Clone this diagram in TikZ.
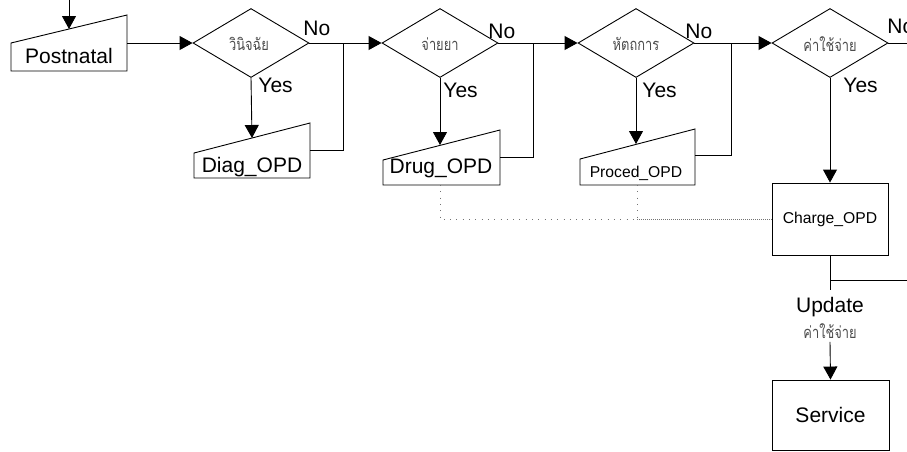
\documentclass[tikz,border=0pt]{standalone}
\usepackage{fontspec}
\setmainfont{Liberation Sans}
\newfontfamily\thaifont[Script=Thai, FakeStretch=0.78]{Loma}
\usetikzlibrary{arrows.meta,shapes.geometric}
\begin{document}
\begin{tikzpicture}[x=1pt,y=-1pt,
  line width=0.9pt,
  flow/.style={-{Triangle[length=13pt,width=14pt]}},
  decision/.style={draw, diamond, minimum width=116pt, minimum height=69pt, inner sep=0pt},
  box/.style={draw, rectangle, minimum width=116pt, minimum height=72pt, inner sep=0pt},
  big/.style={font=\fontsize{21}{24}\selectfont, inner sep=0pt},
  small/.style={font=\fontsize{15.7}{18}\selectfont, inner sep=0pt},
  thai/.style={font=\thaifont\fontsize{16.5}{18}\selectfont, text=black!70, inner sep=0pt},
  link/.style={draw=black!55, line width=0.8pt, dash pattern=on 0.8pt off 5.5pt},
  denselink/.style={draw=black!55, line width=0.8pt, dash pattern=on 0.8pt off 1.2pt},
]
\useasboundingbox (0,0) rectangle (907,451);
\clip (0,0) rectangle (907,451);

% manual input forms (sloped top edge)
\draw (11,71) -- (11,43) -- (127,15) -- (127,71) -- cycle;
\node[big, anchor=base] (post) at (69,63) {Postnatal};
\coordinate (post-in) at (69,29);
\coordinate (post-out) at (127,43);

\draw (194,178) -- (194,153) -- (310,123) -- (310,178) -- cycle;
\node[big, anchor=base] (diag) at (252,172) {Diag\_OPD};
\coordinate (diag-in) at (252,138);
\coordinate (diag-out) at (310,150);

\draw (383,185) -- (383,160) -- (500,130) -- (500,185) -- cycle;
\node[big, anchor=base] (drug) at (441,173) {Drug\_OPD};
\coordinate (drug-in) at (440,145);
\coordinate (drug-out) at (500,157);
\coordinate (drug-base) at (440,185);

\draw (580,185) -- (580,159) -- (695,129) -- (695,185) -- cycle;
\node[small, anchor=base] (proc) at (636,177) {Proced\_OPD};
\coordinate (proc-in) at (636,144);
\coordinate (proc-out) at (695,155);
\coordinate (proc-base) at (637,185);

% decisions
\node[decision] (d1) at (251,43) {};
\node[decision] (d2) at (440,43) {};
\node[decision] (d3) at (636,43) {};
\node[decision] (d4) at (830,43) {};
\node[thai] (t1) at (249,44) {วินิจฉัย};
\node[thai] (t2) at (440,44) {จ่ายยา};
\node[thai] (t3) at (636,44) {หัตถการ};
\node[thai] (t4) at (830,44) {ค่าใช้จ่าย};

% branch labels
\node[big, anchor=base west] (no1) at (303,35) {No};
\node[big, anchor=base west] (no2) at (488,38) {No};
\node[big, anchor=base west] (no3) at (685,38) {No};
\node[big, anchor=base west] (no4) at (887,33) {No};
\node[big, anchor=base west] (yes1) at (258,92) {Yes};
\node[big, anchor=base west] (yes2) at (443,97) {Yes};
\node[big, anchor=base west] (yes3) at (642,97) {Yes};
\node[big, anchor=base west] (yes4) at (843,92) {Yes};

% process boxes
\node[box, small] (charge) at (830,219) {Charge\_OPD};
\node[box, big, minimum height=70pt, minimum width=117pt] (service) at (830.5,415) {Service};

% junctions
\coordinate (top-in) at (69,0);
\coordinate (j1) at (343,43);
\coordinate (j2) at (533,43);
\coordinate (j3) at (731,43);
\coordinate (exit) at (907,43);
\coordinate (br) at (830,280);
\coordinate (br-out) at (907,280);
\coordinate (link-join) at (637,219);

% main flow
\draw[flow] (top-in) -- (post-in);
\draw[flow] (post-out) -- (d1.west);
\draw[flow] (d1.east) -- (d2.west);
\draw[flow] (d2.east) -- (d3.west);
\draw[flow] (d3.east) -- (d4.west);
\draw (d4.east) -- (exit);

\draw[flow] (d1.south) -- (diag-in);
\draw[flow] (d2.south) -- (drug-in);
\draw[flow] (d3.south) -- (proc-in);
\draw[flow] (d4.south) -- (charge.north);

\draw (diag-out) -| (j1);
\draw (drug-out) -| (j2);
\draw (proc-out) -| (j3);

% update step
\node[big, anchor=base, inner ysep=6.5pt] (upd) at (830,312) {Update};
\node[thai, anchor=center, inner ysep=3pt] (updth) at (830,331) {ค่าใช้จ่าย};
\draw (charge.south) -- (upd.north);
\draw[flow] (updth.south) -- (service.north);
\draw (br) -- (br-out);

% data links
\draw[link] (drug-base) |- (link-join);
\draw[link] (proc-base) -- (link-join);
\draw[denselink] (link-join) -- (charge.west);
\end{tikzpicture}
\end{document}
